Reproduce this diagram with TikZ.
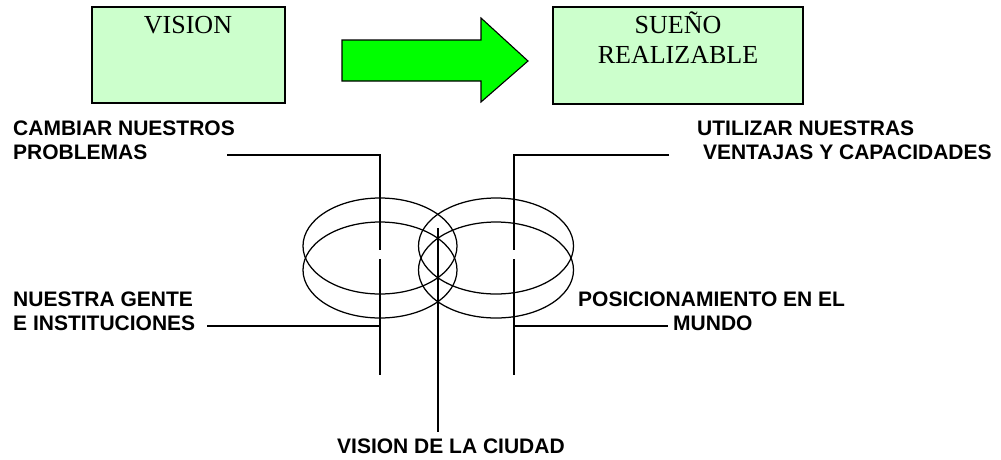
\documentclass[tikz,border=0pt]{standalone}
\usepackage{fontspec}
\setmainfont{Liberation Serif}
\newfontfamily\lsans{Liberation Sans}
\definecolor{boxgreen}{HTML}{CCFFCC}
\definecolor{arrowgreen}{HTML}{00FF00}
\begin{document}
\begin{tikzpicture}[x=1pt,y=-1pt,
  greenbox/.style={draw=black, line width=1.1pt, fill=boxgreen, inner sep=0pt},
  serif/.style={font=\fontsize{26}{30}\selectfont, inner sep=0pt, anchor=base},
  lab/.style={font=\lsans\bfseries\fontsize{21}{24}\selectfont, inner sep=0pt, align=left, anchor=north west},
  wire/.style={draw=black, line width=1.25pt},
  ring/.style={draw=black, line width=1.25pt}]
\useasboundingbox (0,0) rectangle (1001,459);
% top boxes
\node[greenbox, minimum width=193pt, minimum height=96pt] (vision) at (188.5,55) {};
\node[serif] (visiont) at (188,33) {VISION};
\node[greenbox, minimum width=250pt, minimum height=97pt] (sueno) at (678,55.5) {};
\node[serif] (suenot1) at (678,33) {SUEÑO};
\node[serif] (suenot2) at (678,63) {REALIZABLE};
% big arrow
\draw[fill=arrowgreen, line width=1.1pt, line join=miter] (342,40) -- (481,40) -- (481,18) -- (528,61) -- (481,102) -- (481,81) -- (342,81) -- cycle;
% ellipses
\draw[ring] (380,246) ellipse [x radius=77, y radius=48];
\draw[ring] (380,270) ellipse [x radius=77, y radius=48];
\draw[ring] (496,246) ellipse [x radius=77.5, y radius=48];
\draw[ring] (496,270) ellipse [x radius=77.5, y radius=48];
% labels
\node[lab] (cambiar) at (13,121) {CAMBIAR NUESTROS\\PROBLEMAS};
\node[lab] (utilizar) at (697,121) {UTILIZAR NUESTRAS\\\hspace*{5.8pt}VENTAJAS Y CAPACIDADES};
\node[lab] (gente) at (13,292) {NUESTRA GENTE\\E INSTITUCIONES};
\node[lab] (mundo) at (578,292) {POSICIONAMIENTO EN EL\\\hspace*{95pt}MUNDO};
\node[font=\lsans\bfseries\fontsize{21}{24}\selectfont, inner sep=0pt, anchor=base west] (ciudad) at (337,453) {VISION DE LA CIUDAD};
% connector coordinates
\coordinate (cA) at (227,155);
\coordinate (lTop) at (380,155);
\coordinate (lG1) at (380,250);
\coordinate (lG2) at (380,259);
\coordinate (lBot) at (380,375);
\coordinate (lH) at (380,326);
\coordinate (gA) at (207,326);
\coordinate (uA) at (669,155);
\coordinate (rTop) at (514,155);
\coordinate (rG1) at (514,250);
\coordinate (rG2) at (514,259);
\coordinate (rBot) at (514,375);
\coordinate (rH) at (514,326);
\coordinate (mA) at (668,326);
\coordinate (cTop) at (438,228);
\coordinate (cBot) at (438,432);
% connectors
\draw[wire] (cA) -- (lTop) -- (lG1);
\draw[wire] (lG2) -- (lBot);
\draw[wire] (gA) -- (lH);
\draw[wire] (uA) -- (rTop) -- (rG1);
\draw[wire] (rG2) -- (rBot);
\draw[wire] (rH) -- (mA);
\draw[wire] (cTop) -- (cBot);
\end{tikzpicture}
\end{document}
